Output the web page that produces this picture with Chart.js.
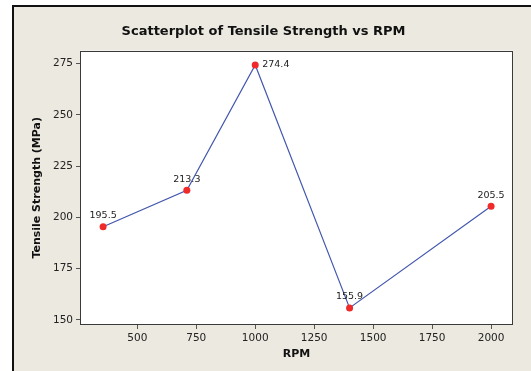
<!DOCTYPE html>
<html>
<head>
<meta charset="utf-8">
<script src="https://cdn.jsdelivr.net/npm/chart.js@4.4.0/dist/chart.umd.min.js"></script>
<style>
  body { margin: 0; background: #fff; }
  #frame {
    position: absolute; left: 12px; top: 5px; width: 519px; height: 366px;
    box-sizing: border-box; border-left: 2px solid #111; border-top: 2px solid #111;
    background: #ece9e0;
  }
  #wrap { position: absolute; left: 0; top: 0; width: 517px; height: 364px; }
</style>
</head>
<body>
<div id="frame"><div id="wrap"><canvas id="mycanvas"></canvas></div></div>
<script>
// data
var rpm = [355, 710, 1000, 1400, 2000];
var strength = [195.5, 213.3, 274.4, 155.9, 205.5];
var xTicks = [500, 750, 1000, 1250, 1500, 1750, 2000];
var yTicks = [150, 175, 200, 225, 250, 275];

var FONT = "Tahoma, 'DejaVu Sans', sans-serif";

var points = [];
for (var i in rpm) {
  points.push({ x: rpm[i], y: strength[i] });
}

// white plot area + box around it
var plotBox = {
  id: 'plotBox',
  beforeDraw: function(chart) {
    var a = chart.chartArea, ctx = chart.ctx;
    ctx.save();
    ctx.fillStyle = '#fff';
    ctx.fillRect(a.left, a.top, a.right - a.left, a.bottom - a.top);
    ctx.restore();
  },
  afterDraw: function(chart) {
    var a = chart.chartArea, ctx = chart.ctx;
    ctx.save();
    ctx.strokeStyle = '#3a3a3a';
    ctx.lineWidth = 1;
    ctx.strokeRect(Math.round(a.left) + 0.5, Math.round(a.top) + 0.5,
      Math.round(a.right - a.left) - 1, Math.round(a.bottom - a.top) - 1);
    ctx.restore();
  }
};

// value labels next to the points
var pointLabels = {
  id: 'pointLabels',
  afterDatasetsDraw: function(chart) {
    var ctx = chart.ctx;
    var meta = chart.getDatasetMeta(0);
    var top = Math.max.apply(null, strength);
    ctx.save();
    ctx.font = '9.5px ' + FONT;
    ctx.fillStyle = '#222';
    meta.data.forEach(function(p, i) {
      var txt = strength[i].toFixed(1);
      if (strength[i] === top) {
        ctx.textAlign = 'left';
        ctx.textBaseline = 'middle';
        ctx.fillText(txt, p.x + 7, p.y);
      } else {
        ctx.textAlign = 'center';
        ctx.textBaseline = 'middle';
        ctx.fillText(txt, p.x, p.y - 11);
      }
    });
    ctx.restore();
  }
};

var ctx = document.getElementById('mycanvas');
var chart = new Chart(ctx, {
  type: 'scatter',
  data: {
    datasets: [{
      data: points,
      showLine: true,
      borderColor: '#4357ae',
      borderWidth: 1.2,
      pointBackgroundColor: '#ee2a2a',
      pointBorderColor: '#ee2a2a',
      pointRadius: 3.5,
      pointBorderWidth: 0
    }]
  },
  options: {
    responsive: true,
    maintainAspectRatio: false,
    animation: false,
    events: [],
    layout: { padding: { left: 0, right: 18, top: 0, bottom: 0 } },
    plugins: {
      legend: { display: false },
      tooltip: { enabled: false },
      title: {
        display: true,
        text: 'Scatterplot of Tensile Strength vs RPM',
        color: '#111',
        font: { family: FONT, size: 13, weight: 'bold' },
        padding: { top: 17, bottom: 11 }
      }
    },
    scales: {
      x: {
        type: 'linear',
        min: 257, max: 2093,
        afterFit: function(s) { s.height = 46; },
        afterBuildTicks: function(s) { s.ticks = xTicks.map(function(v) { return { value: v }; }); },
        grid: { drawOnChartArea: false, drawTicks: true, tickLength: 4, color: '#555' },
        border: { display: false },
        ticks: {
          color: '#222', padding: 3, maxRotation: 0, font: { family: FONT, size: 10.5 },
          callback: function(v) { return String(v); }
        },
        title: {
          display: true, text: 'RPM', color: '#111',
          font: { family: FONT, size: 11, weight: 'bold' },
          padding: { top: 0, bottom: 10 }
        }
      },
      y: {
        type: 'linear',
        min: 147.56, max: 281.4,
        afterFit: function(s) { s.width = 66; },
        afterBuildTicks: function(s) { s.ticks = yTicks.map(function(v) { return { value: v }; }); },
        grid: { drawOnChartArea: false, drawTicks: true, tickLength: 4, color: '#555' },
        border: { display: false },
        ticks: {
          color: '#222', padding: 3, font: { family: FONT, size: 10.5 },
          callback: function(v) { return String(v); }
        },
        title: {
          display: true, text: 'Tensile Strength (MPa)', color: '#111',
          font: { family: FONT, size: 11, weight: 'bold' },
          padding: { top: 17, bottom: 0 }
        }
      }
    }
  },
  plugins: [plotBox, pointLabels]
});
</script>
</body>
</html>
